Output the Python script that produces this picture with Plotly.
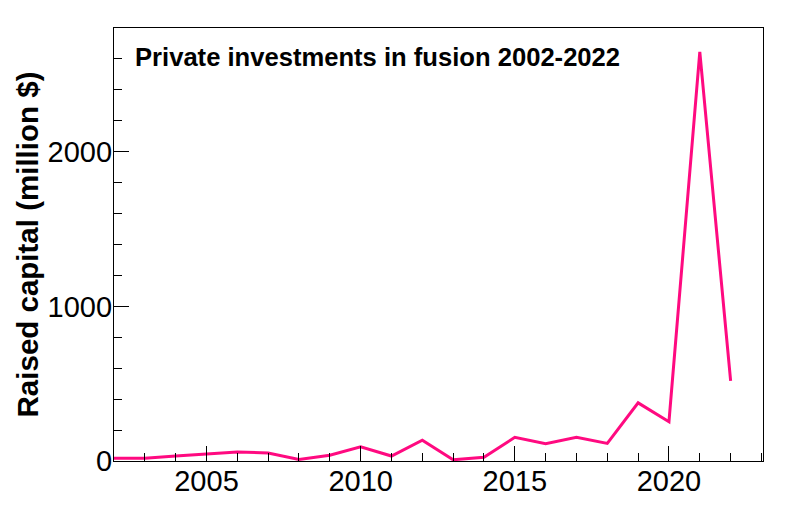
import plotly.graph_objects as go

years = list(range(2002, 2023))
raised = [17, 17, 32, 45, 58, 52, 10, 37, 92, 32, 135, 8, 24, 153, 112, 153, 114, 376, 254, 2645, 518]

title_text = "Private investments in fusion 2002-2022"
y_title = "Raised capital (million $)"

fig = go.Figure()
fig.add_trace(go.Scatter(x=years, y=raised, mode="lines",
                         line=dict(color="#FF0A80", width=3)))

font = "Liberation Sans, Arial, Helvetica, sans-serif"
fig.update_layout(
    width=797, height=514,
    margin=dict(l=105.5, r=41.5, t=19.5, b=61, autoexpand=False),
    paper_bgcolor="white", plot_bgcolor="white",
    showlegend=False,
    font=dict(family=font, color="black"),
    xaxis=dict(range=[2002, 2023.05], tickmode="array", tickvals=[2005, 2010, 2015, 2020],
               ticks="inside", ticklen=15, tickwidth=1, tickcolor="black",
               minor=dict(dtick=1, tick0=2002, ticks="inside", ticklen=8, tickwidth=1, tickcolor="black"),
               showline=True, linecolor="black", linewidth=1.2, mirror=True,
               showgrid=False, zeroline=False, tickfont=dict(size=29), automargin=False,
               ticklabelstandoff=-6),
    yaxis=dict(range=[0, 2800], tickmode="array", tickvals=[0, 1000, 2000],
               ticks="inside", ticklen=15, tickwidth=1, tickcolor="black",
               minor=dict(dtick=200, tick0=0, ticks="inside", ticklen=8, tickwidth=1, tickcolor="black"),
               showline=True, linecolor="black", linewidth=1.2, mirror=True,
               showgrid=False, zeroline=False, tickfont=dict(size=29), automargin=False,
               ticklabelstandoff=-5,
               title=dict(text="<b>" + y_title + "</b>", font=dict(size=29.5), standoff=0)),
    annotations=[dict(text="<b>" + title_text + "</b>", xref="paper", yref="paper",
                      x=0.0295, y=0.932, xanchor="left", yanchor="middle", showarrow=False,
                      font=dict(size=25.6, family=font, color="black"))],
)
fig.write_html("out.html")
